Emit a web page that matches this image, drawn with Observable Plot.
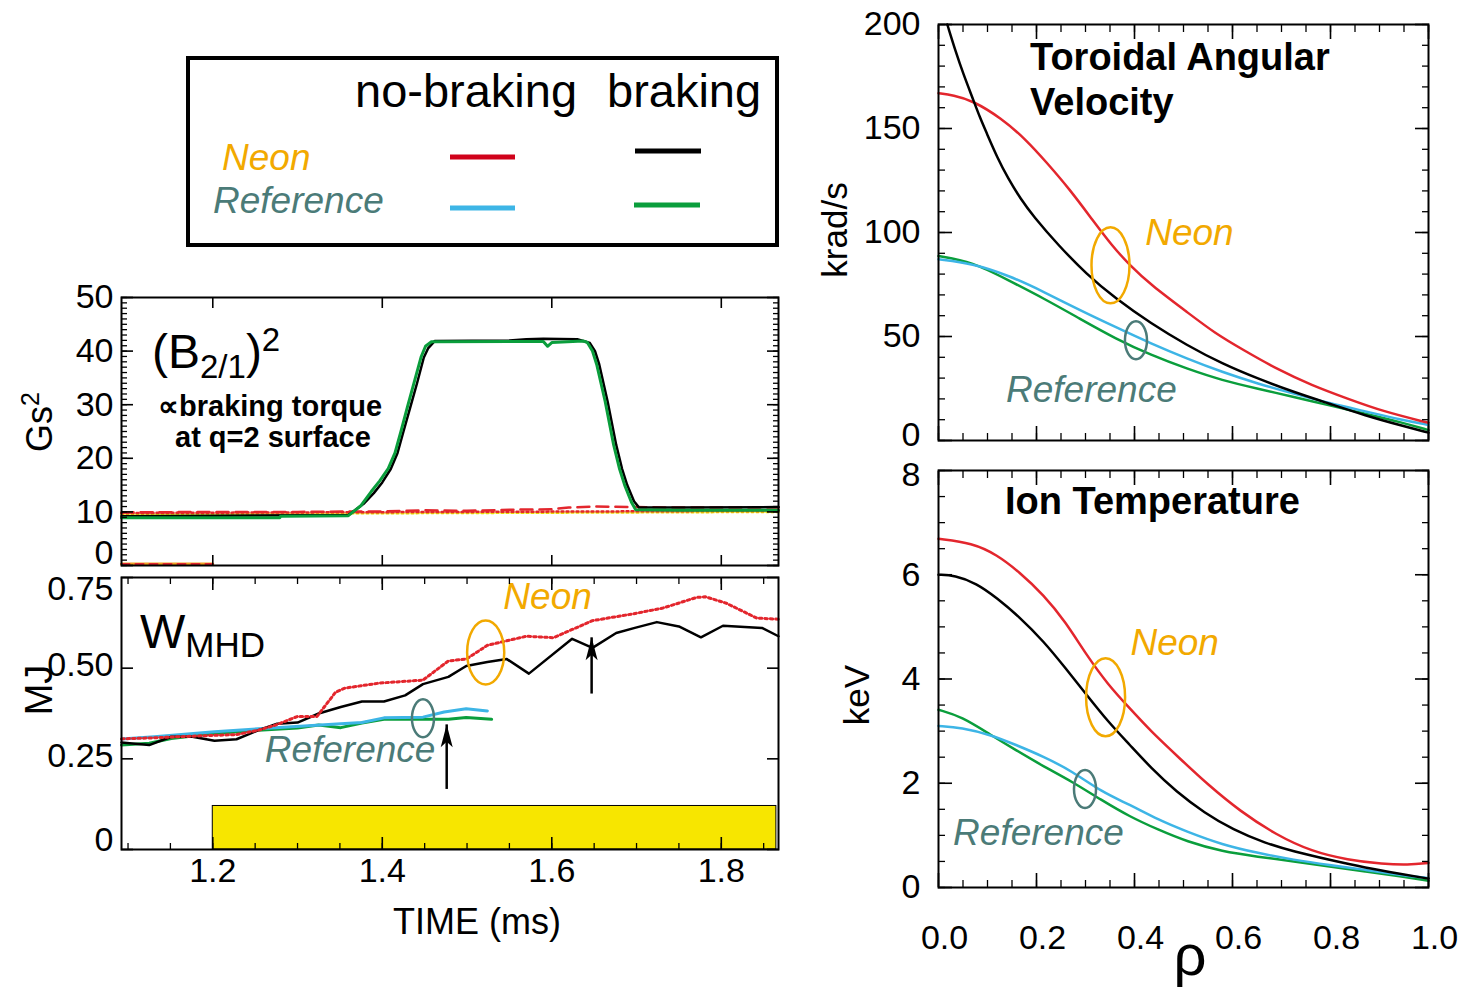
<!DOCTYPE html>
<html><head><meta charset="utf-8">
<script src="https://cdn.jsdelivr.net/npm/d3@7"></script>
<script src="https://cdn.jsdelivr.net/npm/@observablehq/plot@0.6"></script>
<style>
body{margin:0;background:#fff;}
#root{position:relative;width:1461px;height:994px;overflow:hidden;background:#fff;}
</style></head><body><div id="root"></div>
<script>
// ---------------- DATA ----------------
// (B_2/1)^2 panel  [Gs^2] vs time [ms]
const b2GreenT = [1.0923, 1.279, 1.28, 1.36, 1.375, 1.387, 1.397, 1.407, 1.415, 1.422, 1.43, 1.438, 1.446, 1.451, 1.458, 1.59, 1.595, 1.60, 1.637, 1.642, 1.648, 1.653, 1.663, 1.673, 1.68, 1.686, 1.694, 1.699, 1.75, 1.8675];
const b2Green  = [8.9, 8.9, 9.2, 9.3, 11.2, 13.8, 15.8, 18.1, 21.0, 25.0, 29.8, 34.4, 39.0, 40.9, 41.75, 41.8, 40.9, 41.6, 41.9, 41.6, 40.0, 37.5, 30.6, 22.5, 18.0, 15.0, 11.8, 10.4, 10.3, 10.3];
const b2BlackT = [1.0923, 1.36, 1.378, 1.39, 1.40, 1.41, 1.418, 1.425, 1.433, 1.441, 1.449, 1.454, 1.462, 1.55, 1.57, 1.59, 1.63, 1.645, 1.651, 1.656, 1.666, 1.676, 1.683, 1.689, 1.697, 1.703, 1.75, 1.8675];
const b2Black  = [9.2, 9.4, 11.5, 13.5, 15.5, 18.0, 21.0, 25.0, 29.5, 34.0, 38.8, 40.5, 41.9, 42.0, 42.2, 42.3, 42.2, 41.5, 40.0, 37.5, 30.5, 22.5, 18.0, 15.0, 12.0, 10.8, 10.8, 10.9];
const b2RedT   = [1.0923, 1.2, 1.3, 1.4, 1.45, 1.5, 1.55, 1.6, 1.62, 1.65, 1.7, 1.75, 1.8, 1.8675];
const b2Red    = [9.9, 10.0, 10.0, 10.1, 10.3, 10.2, 10.4, 10.5, 10.8, 11.0, 10.9, 10.8, 10.8, 10.8];
const b2DotT   = [1.0923, 1.5, 1.8675];
const b2RedDot = [9.8, 10.0, 10.2];
const b2YelDot = [9.6, 9.8, 10.0];
const b2PreT   = [1.0923, 1.2];
const b2Pre    = [0.3, 0.3];

// W_MHD panel [MJ] vs time [ms]
const wRedT   = [1.0923,1.131,1.182,1.228,1.254,1.274,1.30,1.323,1.345,1.356,1.397,1.448,1.478,1.499,1.524,1.57,1.602,1.648,1.694,1.73,1.771,1.781,1.806,1.842,1.8675];
const wRed    = [0.305,0.308,0.313,0.317,0.329,0.343,0.367,0.367,0.434,0.445,0.459,0.467,0.52,0.525,0.563,0.588,0.584,0.631,0.649,0.665,0.695,0.697,0.679,0.638,0.635];
const wBlackT = [1.0923,1.125,1.151,1.176,1.202,1.228,1.254,1.276,1.30,1.325,1.351,1.376,1.402,1.427,1.448,1.478,1.499,1.524,1.547,1.573,1.624,1.648,1.676,1.698,1.724,1.75,1.776,1.802,1.848,1.8675];
const wBlack  = [0.295,0.288,0.311,0.311,0.30,0.304,0.329,0.347,0.35,0.375,0.393,0.408,0.408,0.425,0.456,0.476,0.506,0.517,0.525,0.485,0.581,0.556,0.597,0.611,0.627,0.615,0.585,0.617,0.611,0.588];
const wBlueT  = [1.0923,1.131,1.202,1.274,1.351,1.376,1.402,1.448,1.473,1.499,1.524];
const wBlue   = [0.305,0.311,0.325,0.336,0.347,0.35,0.363,0.365,0.379,0.388,0.382];
const wGreenT = [1.0923,1.125,1.151,1.202,1.254,1.30,1.325,1.351,1.376,1.402,1.427,1.478,1.499,1.529];
const wGreen  = [0.288,0.293,0.306,0.32,0.329,0.335,0.343,0.336,0.349,0.359,0.359,0.359,0.364,0.359];
const brakeStart = 1.2, brakeEnd = 1.865, brakeLevel = 0.12;
const arrowT    = [1.476, 1.647];
const arrowBase = [0.167, 0.43];
const arrowTip  = [0.345, 0.585];

// Toroidal angular velocity [krad/s] vs rho
const vRedRho   = [0, .03, .069, .128, .179, .222, .266, .317, .353, .39, .434, .507, .565, .623, .689, .762, .835, .907, 1.0];
const vRed      = [167, 166, 163.5, 155, 144.6, 133.3, 121.3, 105.2, 94, 84.3, 74.7, 61.8, 51.4, 43.4, 34.5, 26.5, 20.1, 14.0, 8.5];
const vBlackRho = [.018, .035, .051, .069, .085, .098, .12, .142, .168, .193, .244, .302, .361, .434, .507, .579, .652, .725, .798, .871, .944, 1.0];
const vBlack    = [200, 187, 176, 165, 155, 148, 136, 126, 116, 108, 94, 80, 68.3, 56.2, 45.8, 36.9, 29.7, 23.3, 17.7, 12.0, 7.2, 3.8];
const vRefRho   = [0, .069, .142, .215, .288, .361, .434, .507, .579, .652, .725, .798, .871, .944, 1.0];
const vBlue     = [87.1, 85.1, 79.5, 71.5, 62.7, 54.6, 46.6, 39.4, 32.9, 27.3, 22.5, 17.9, 14.0, 10.0, 7.5];
const vGreen    = [88.7, 85.9, 77.1, 68.3, 58.6, 49.0, 41.0, 34.5, 28.9, 24.9, 20.9, 16.9, 12.9, 8.8, 5.0];

// Ion temperature [keV] vs rho
const tRedRho   = [0, .069, .12, .164, .215, .259, .302, .346, .39, .434, .492, .55, .616, .689, .762, .835, .907, .958, 1.0];
const tRed      = [6.69, 6.61, 6.38, 6.06, 5.61, 5.10, 4.46, 3.89, 3.44, 2.99, 2.48, 1.97, 1.46, 1.01, 0.69, 0.53, 0.45, 0.43, 0.47];
const tBlackRho = [0, .033, .077, .12, .164, .215, .259, .302, .346, .39, .434, .485, .543, .601, .667, .725, .798, .871, .944, 1.0];
const tBlack    = [6.0, 5.99, 5.84, 5.55, 5.2, 4.72, 4.21, 3.70, 3.18, 2.74, 2.29, 1.84, 1.43, 1.11, 0.85, 0.69, 0.53, 0.38, 0.26, 0.17];
const tRefRho   = [0, .047, .106, .157, .215, .273, .332, .39, .448, .507, .579, .652, .725, .798, .871, .944, 1.0];
const tBlue     = [3.10, 3.07, 2.93, 2.74, 2.51, 2.23, 1.84, 1.59, 1.30, 1.07, 0.82, 0.66, 0.53, 0.43, 0.34, 0.24, 0.18];
const tGreen    = [3.41, 3.28, 2.93, 2.64, 2.32, 2.03, 1.68, 1.36, 1.11, 0.88, 0.69, 0.59, 0.50, 0.40, 0.31, 0.21, 0.13];

// Tick labels
const b2Ticks    = [0, 10, 20, 30, 40, 50];
const wTicks     = [0, 0.25, 0.5, 0.75];
const timeTicks  = [1.2, 1.4, 1.6, 1.8];
const omegaTicks = [0, 50, 100, 150, 200];
const tiTicks    = [0, 2, 4, 6, 8];
const rhoTicks   = [0, 0.2, 0.4, 0.6, 0.8, 1.0];

// Annotation anchors (data coordinates)
const wNeonLabel = {x: 1.595, y: 0.695}, wRefLabel = {x: 1.362, y: 0.273};
const wNeonOval = {x: 1.522, y: 0.543}, wRefOval = {x: 1.448, y: 0.362};
const vNeonLabel = {x: 0.512, y: 99.5}, vRefLabel = {x: 0.312, y: 24.0};
const vNeonOval = {x: 0.351, y: 84.2}, vRefOval = {x: 0.403, y: 48.2};
const tNeonLabel = {x: 0.482, y: 4.68}, tRefLabel = {x: 0.204, y: 1.04};
const tNeonOval = {x: 0.341, y: 3.65}, tRefOval = {x: 0.299, y: 1.89};

// ---------------- STYLE ----------------
const FONT = "'Liberation Sans', Arial, Helvetica, sans-serif";
const RED = "#e3262d", BLUE = "#3db5e6", GREEN = "#0a9e3c", ORANGE = "#f2a900", TEAL = "#4b7b78", YELLOW = "#f7e600";
const zip = (xs, ys) => xs.map((x, i) => ({x, y: ys[i]}));

function ellipse(aspect) {
  return {draw(ctx, size) {
    const r = Math.sqrt(size / Math.PI), rx = r * aspect, ry = r, k = 0.5523;
    ctx.moveTo(rx, 0);
    ctx.bezierCurveTo(rx, ry * k, rx * k, ry, 0, ry);
    ctx.bezierCurveTo(-rx * k, ry, -rx, ry * k, -rx, 0);
    ctx.bezierCurveTo(-rx, -ry * k, -rx * k, -ry, 0, -ry);
    ctx.bezierCurveTo(rx * k, -ry, rx, -ry * k, rx, 0);
    ctx.closePath();
  }};
}
const arrowHead = {draw(ctx, size) {
  const r = Math.sqrt(size / Math.PI);
  ctx.moveTo(0, 0); ctx.lineTo(r * 0.5, r * 1.9); ctx.lineTo(0, r * 1.45); ctx.lineTo(-r * 0.5, r * 1.9); ctx.closePath();
}};

function oval(p, color, r, aspect) {
  return Plot.dot([p], {x: "x", y: "y", r, symbol: ellipse(aspect), stroke: color, strokeWidth: 2.5, fill: "none"});
}
function label(p, txt, color) {
  return Plot.text([p], {x: "x", y: "y", text: () => txt, fill: color, fontSize: 37, fontStyle: "italic", textAnchor: "middle", lineAnchor: "middle", fontFamily: FONT});
}

const root = document.getElementById("root");

function panel(c) {
  const ML = 140, MR = 40, MT = 40, MB = 100;
  const axes = [];
  for (const a of ["left", "right"]) {
    axes.push(Plot.axisY(c.yMaj, {anchor: a, tickSize: -c.yMajLen, text: null, label: null, strokeWidth: 1.6}));
    if (c.yMin) axes.push(Plot.axisY(c.yMin, {anchor: a, tickSize: -c.yMinLen, text: null, label: null, strokeWidth: 1.3}));
  }
  for (const a of ["top", "bottom"]) {
    axes.push(Plot.axisX(c.xMaj, {anchor: a, tickSize: -c.xMajLen, text: null, label: null, strokeWidth: 1.6}));
    if (c.xMin) axes.push(Plot.axisX(c.xMin, {anchor: a, tickSize: -c.xMinLen, text: null, label: null, strokeWidth: 1.3}));
  }
  for (const s of c.yLabSets) {
    axes.push(Plot.axisY(s.ticks, {anchor: "left", tickSize: 0, tickPadding: c.yPad, tickFormat: c.yFmt, fontSize: 34, label: null, dy: s.dy || 0, fontFamily: FONT}));
  }
  if (c.xFmt) axes.push(Plot.axisX(c.xLab, {anchor: "bottom", tickSize: 0, tickPadding: c.xPad, tickFormat: c.xFmt, fontSize: 34, label: null, dx: c.xDx || 0, fontFamily: FONT}));
  const p = Plot.plot({
    width: c.W + ML + MR, height: c.H + MT + MB,
    marginLeft: ML, marginRight: MR, marginTop: MT, marginBottom: MB,
    x: {domain: c.xDomain}, y: {domain: c.yDomain},
    style: {background: "transparent", overflow: "visible", fontFamily: FONT, color: "black", maxWidth: "none"},
    marks: [...c.marks, ...axes, Plot.frame({stroke: "black", strokeWidth: 2})]
  });
  p.style.position = "absolute";
  p.style.left = (c.L - ML) + "px";
  p.style.top = (c.T - MT) + "px";
  root.appendChild(p);
}

const tDomain = [1.0923, 1.8675];

// Panel A: (B2/1)^2
panel({
  L: 121, T: 297, W: 657, H: 268, xDomain: tDomain, yDomain: [0, 50],
  yMaj: b2Ticks, yMin: d3.range(0, 50.001, 1), yMajLen: 12, yMinLen: 6,
  xMaj: timeTicks, xMajLen: 10,
  yLabSets: [{ticks: b2Ticks.slice(1)}, {ticks: b2Ticks.slice(0, 1), dy: -12}], yPad: 8, yFmt: d => String(d),
  marks: [
    Plot.line(zip(b2PreT, b2Pre), {x: "x", y: "y", stroke: "#f0a020", strokeWidth: 3}),
    Plot.line(zip(b2PreT, b2Pre), {x: "x", y: "y", stroke: RED, strokeWidth: 2, strokeDasharray: "8,6"}),
    Plot.line(zip(b2DotT, b2YelDot), {x: "x", y: "y", stroke: "#e8d800", strokeWidth: 2.5, strokeDasharray: "2,3"}),
    Plot.line(zip(b2DotT, b2RedDot), {x: "x", y: "y", stroke: RED, strokeWidth: 2.5, strokeDasharray: "2,3"}),
    Plot.line(zip(b2RedT, b2Red), {x: "x", y: "y", stroke: RED, strokeWidth: 2.5, strokeDasharray: "12,7"}),
    Plot.line(zip(b2BlackT, b2Black), {x: "x", y: "y", stroke: "black", strokeWidth: 2.5}),
    Plot.line(zip(b2GreenT, b2Green), {x: "x", y: "y", stroke: GREEN, strokeWidth: 3})
  ]
});

// Panel B: W_MHD
panel({
  L: 121, T: 577, W: 657, H: 272, xDomain: tDomain, yDomain: [0, 0.75],
  yMaj: wTicks, yMajLen: 12,
  xMaj: timeTicks, xMin: d3.range(1.1, 1.8676, 0.05), xMajLen: 12, xMinLen: 6,
  yLabSets: [{ticks: [0.25, 0.5], dy: -3}, {ticks: [0.75], dy: 12}, {ticks: [0], dy: -9}], yPad: 8, yFmt: d => d === 0 ? "0" : d.toFixed(2),
  xLab: timeTicks, xPad: 8, xFmt: d => d.toFixed(1),
  marks: [
    Plot.rect([{x1: brakeStart, x2: brakeEnd, y1: 0, y2: brakeLevel}], {x1: "x1", x2: "x2", y1: "y1", y2: "y2", fill: YELLOW, stroke: "black", strokeWidth: 1}),
    Plot.line(zip(wGreenT, wGreen), {x: "x", y: "y", stroke: GREEN, strokeWidth: 3}),
    Plot.line(zip(wBlueT, wBlue), {x: "x", y: "y", stroke: BLUE, strokeWidth: 3}),
    Plot.line(zip(wBlackT, wBlack), {x: "x", y: "y", stroke: "black", strokeWidth: 2.5}),
    Plot.line(zip(wRedT, wRed), {x: "x", y: "y", stroke: RED, strokeWidth: 3, strokeDasharray: "2.5,3"}),
    Plot.link(arrowT.map((t, i) => ({t, b: arrowBase[i], a: arrowTip[i]})), {x1: "t", x2: "t", y1: "b", y2: "a", stroke: "black", strokeWidth: 2.5}),
    Plot.dot(arrowT.map((t, i) => ({t, a: arrowTip[i]})), {x: "t", y: "a", r: 12, symbol: arrowHead, fill: "black", stroke: "none"}),
    oval(wNeonOval, ORANGE, 32, 0.58),
    oval(wRefOval, TEAL, 19, 0.58),
    label(wNeonLabel, "Neon", ORANGE),
    label(wRefLabel, "Reference", TEAL)
  ]
});

// Panel C: Toroidal angular velocity
panel({
  L: 938, T: 24, W: 490, H: 416, xDomain: [0, 1], yDomain: [0, 200],
  yMaj: omegaTicks, yMin: d3.range(0, 200.01, 10), yMajLen: 14, yMinLen: 7,
  xMaj: rhoTicks, xMin: d3.range(0, 1.0001, 0.05), xMajLen: 14, xMinLen: 7,
  yLabSets: [{ticks: omegaTicks.slice(1)}, {ticks: [0], dy: -5}], yPad: 18, yFmt: d => String(d),
  marks: [
    Plot.line(zip(vRefRho, vGreen), {x: "x", y: "y", stroke: GREEN, strokeWidth: 2.5, curve: "basis"}),
    Plot.line(zip(vRefRho, vBlue), {x: "x", y: "y", stroke: BLUE, strokeWidth: 2.5, curve: "basis"}),
    Plot.line(zip(vRedRho, vRed), {x: "x", y: "y", stroke: RED, strokeWidth: 2.5, curve: "basis"}),
    Plot.line(zip(vBlackRho, vBlack), {x: "x", y: "y", stroke: "black", strokeWidth: 2.5, curve: "basis"}),
    oval(vNeonOval, ORANGE, 38, 0.5),
    oval(vRefOval, TEAL, 19, 0.58),
    label(vNeonLabel, "Neon", ORANGE),
    label(vRefLabel, "Reference", TEAL)
  ]
});

// Panel D: Ion temperature
panel({
  L: 938, T: 470, W: 490, H: 417, xDomain: [0, 1], yDomain: [0, 8],
  yMaj: tiTicks, yMin: d3.range(0, 8.001, 0.5), yMajLen: 14, yMinLen: 7,
  xMaj: rhoTicks, xMin: d3.range(0, 1.0001, 0.05), xMajLen: 14, xMinLen: 7,
  yLabSets: [{ticks: tiTicks.slice(0, 4)}, {ticks: [8], dy: 5}], yPad: 18, yFmt: d => String(d),
  xLab: rhoTicks, xPad: 37, xFmt: d => d.toFixed(1), xDx: 6,
  marks: [
    Plot.line(zip(tRefRho, tGreen), {x: "x", y: "y", stroke: GREEN, strokeWidth: 2.5, curve: "basis"}),
    Plot.line(zip(tRefRho, tBlue), {x: "x", y: "y", stroke: BLUE, strokeWidth: 2.5, curve: "basis"}),
    Plot.line(zip(tRedRho, tRed), {x: "x", y: "y", stroke: RED, strokeWidth: 2.5, curve: "basis"}),
    Plot.line(zip(tBlackRho, tBlack), {x: "x", y: "y", stroke: "black", strokeWidth: 2.5, curve: "basis"}),
    oval(tNeonOval, ORANGE, 39, 0.5),
    oval(tRefOval, TEAL, 19, 0.58),
    label(tNeonLabel, "Neon", ORANGE),
    label(tRefLabel, "Reference", TEAL)
  ]
});

// ---------------- OVERLAY TEXT / LEGEND ----------------
const NS = "http://www.w3.org/2000/svg";
const ov = document.createElementNS(NS, "svg");
ov.setAttribute("width", 1461); ov.setAttribute("height", 994);
ov.style.cssText = "position:absolute;left:0;top:0;pointer-events:none;";
ov.innerHTML = `
<g font-family="${FONT}">
  <rect x="188" y="58" width="589" height="187" fill="none" stroke="black" stroke-width="4"/>
  <text x="355" y="107" font-size="47">no-braking</text>
  <text x="607" y="107" font-size="47">braking</text>
  <text x="222" y="170" font-size="37" font-style="italic" fill="${ORANGE}">Neon</text>
  <text x="213" y="213" font-size="37" font-style="italic" fill="${TEAL}">Reference</text>
  <line x1="450" x2="515" y1="157" y2="157" stroke="#d0021b" stroke-width="5"/>
  <line x1="635" x2="701" y1="151" y2="151" stroke="black" stroke-width="5"/>
  <line x1="450" x2="515" y1="208" y2="208" stroke="${BLUE}" stroke-width="5"/>
  <line x1="634" x2="700" y1="205" y2="205" stroke="${GREEN}" stroke-width="5"/>

  <text x="152" y="368" font-size="48">(B<tspan font-size="33" dy="10">2/1</tspan><tspan font-size="48" dy="-10">)</tspan><tspan font-size="33" dy="-17">2</tspan></text>
  <text x="158" y="416" font-size="29" font-weight="bold">∝braking torque</text>
  <text x="175" y="447" font-size="29" font-weight="bold">at q=2 surface</text>
  <text x="140" y="648" font-size="48">W<tspan font-size="35" dy="9">MHD</tspan></text>

  <text transform="translate(52,422) rotate(-90)" text-anchor="middle" font-size="36">Gs<tspan font-size="25" dy="-13">2</tspan></text>
  <text transform="translate(52,690) rotate(-90)" text-anchor="middle" font-size="38">MJ</text>
  <text transform="translate(847,230) rotate(-90)" text-anchor="middle" font-size="35">krad/s</text>
  <text transform="translate(869,695) rotate(-90)" text-anchor="middle" font-size="35">keV</text>
  <text x="477" y="934" text-anchor="middle" font-size="36">TIME (ms)</text>
  <text x="1190" y="975" text-anchor="middle" font-size="58">ρ</text>

  <text x="1030" y="70" font-size="38" font-weight="bold">Toroidal Angular</text>
  <text x="1030" y="115" font-size="38" font-weight="bold">Velocity</text>
  <text x="1005" y="514" font-size="38" font-weight="bold">Ion Temperature</text>
</g>`;
root.appendChild(ov);
</script>
</body></html>
